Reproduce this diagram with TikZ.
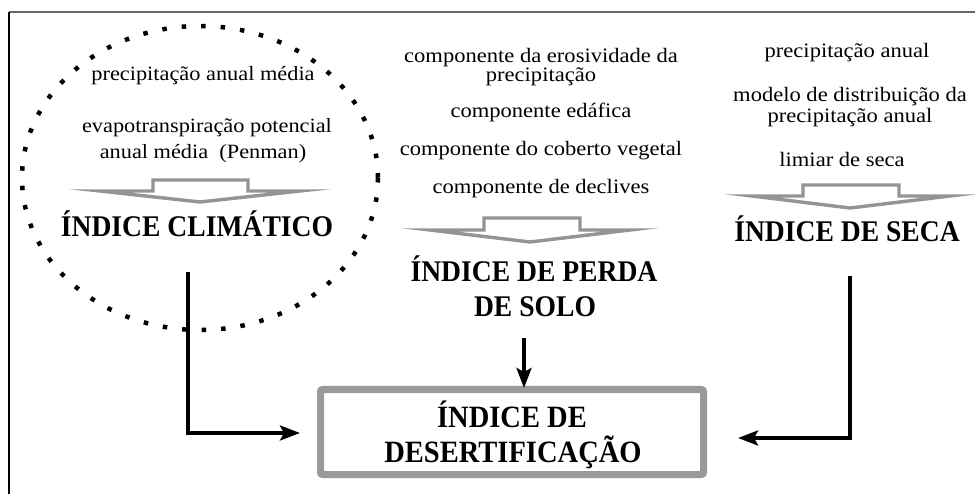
\documentclass[tikz,border=0pt]{standalone}
\usepackage{fontspec}
\setmainfont{Liberation Serif}
\newfontfamily\widefont{Liberation Serif}[FakeStretch=1.1]
\newfontfamily\bcond{Liberation Serif Bold}[FakeStretch=0.92]
\usetikzlibrary{arrows.meta}
\tikzset{
  smallL/.style={font=\widefont\fontsize{20.3}{26}\selectfont, inner sep=0pt, anchor=base},
  small/.style={font=\widefont\fontsize{20.5}{22}\selectfont, inner sep=0pt, anchor=base},
  big/.style={font=\bcond\fontsize{30}{34}\selectfont, inner sep=0pt, anchor=base},
  bigbox/.style={font=\bcond\fontsize{31}{34}\selectfont, inner sep=0pt, anchor=base},
  blockarrow/.style={draw=black!42, line width=3.4pt, fill=white, line join=miter, miter limit=30},
  conn/.style={draw=black, line width=3.6pt, -{Stealth[length=20pt,width=15pt,inset=4pt]}},
}
\begin{document}
\begin{tikzpicture}[x=1pt,y=-1pt]
\useasboundingbox (0,0) rectangle (975,494);
% frame
\draw[black!60, line width=1.5pt] (975,12) -- (9,12);
\draw[black, line width=1.8pt] (9,12) -- (9,494);

% dotted ellipse
\draw[black, line width=4.5pt, dash pattern=on 4.5pt off 15pt] (200,178) ellipse [x radius=178, y radius=152];

% left group
\node[smallL] (l1) at (203,81) {precipitação anual média};
\node[smallL] (l2) at (207,133) {evapotranspiração potencial};
\node[smallL] (l3) at (203,159) {anual média\ \ (Penman)};
\draw[blockarrow] (153,180) -- (248,180) -- (248,191) -- (300,191) -- (200,202) -- (100,191) -- (153,191) -- cycle;
\node[big] (ic) at (197,237) {ÍNDICE CLIMÁTICO};

% middle group
\node[small] (m1) at (541,63) {componente da erosividade da};
\node[small] (m2) at (541,82) {precipitação};
\node[small] (m3) at (541,118) {componente edáfica};
\node[small] (m4) at (541,156) {componente do coberto vegetal};
\node[small] (m5) at (541,194) {componente de declives};
\draw[blockarrow] (484,218) -- (580,218) -- (580,230) -- (630,230) -- (530,242) -- (430,230) -- (484,230) -- cycle;
\node[big] (ip1) at (534,282) {ÍNDICE DE PERDA};
\node[big] (ip2) at (535,317) {DE SOLO};

% right group
\node[small] (r1) at (847,58) {precipitação anual};
\node[small] (r2) at (850,102) {modelo de distribuição da};
\node[small] (r3) at (850,123) {precipitação anual};
\node[small] (r4) at (842,167) {limiar de seca};
\draw[blockarrow] (803,185) -- (899,185) -- (899,196) -- (950,196) -- (850,208) -- (752,196) -- (803,196) -- cycle;
\node[big] (is) at (847,242) {ÍNDICE DE SECA};

% final box
\draw[black!40, line width=7pt, rounded corners=2pt] (320.5,389.5) rectangle (703.5,474.5);
\coordinate (boxL) at (300,433);
\coordinate (boxR) at (738,438);
\coordinate (boxT) at (524,388);
\node[bigbox] (d1) at (512,427) {ÍNDICE DE};
\node[bigbox] (d2) at (513,462) {DESERTIFICAÇÃO};

% connectors
\coordinate (cL) at (188,272);
\coordinate (cM) at (524,338);
\coordinate (cR) at (850,276);
\draw[conn] (cL) |- (boxL);
\draw[conn] (cM) -- (boxT);
\draw[conn] (cR) |- (boxR);
\end{tikzpicture}
\end{document}
